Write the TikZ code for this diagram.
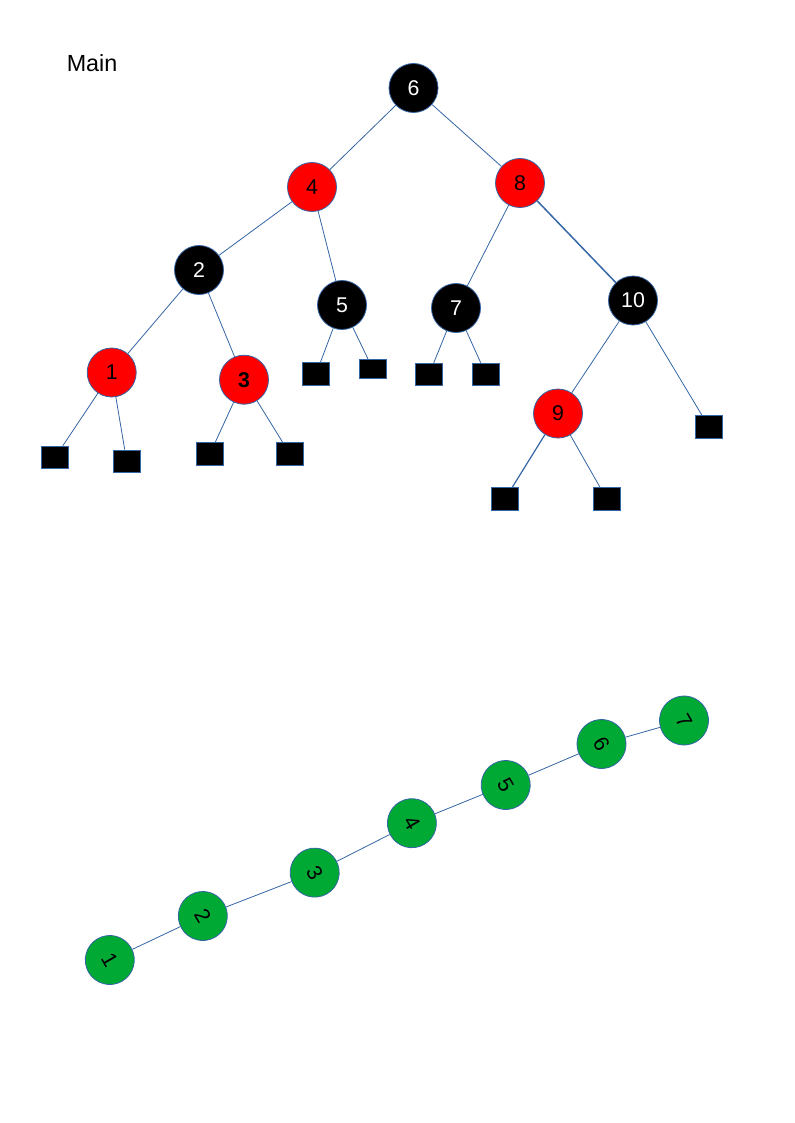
\documentclass[tikz,border=0pt]{standalone}
\usepackage{fontspec}
\setmainfont{Liberation Sans}
\definecolor{edgeblue}{HTML}{3465A4}
\definecolor{nodegreen}{HTML}{00A933}

\begin{document}
\begin{tikzpicture}[x=0.75pt,y=-0.75pt]
				\tikzstyle{rbnode}=[circle,draw=edgeblue,line width=0.6pt,minimum size=36.75pt,inner sep=0pt,font=\fontsize{16}{19}\selectfont]
				\tikzstyle{blk}=[rbnode,fill=black,text=white]
				\tikzstyle{rd}=[rbnode,fill=red,text=black]
				\tikzstyle{nil}=[rectangle,draw=edgeblue,line width=0.6pt,fill=black,minimum width=20pt,minimum height=17pt,inner sep=0pt]
				\tikzstyle{chainnode}=[rbnode,fill=nodegreen,text=black,rotate=-60]
				\tikzstyle{treeline}=[edgeblue,line width=0.6pt]
				
				\useasboundingbox (0,0) rectangle (794,1123);										% Seite
				
				\node (title) [anchor=base west,inner sep=0pt,font=\fontsize{17.5}{21}\selectfont] at (66.5,72) {Main};
				
				% Baum
				\node (n6) [blk] at (413.5,88) {6};
				\node (n4) [rd] at (312,187) {4};
				\node (n8) [rd] at (520,183) {8};
				\node (n2) [blk] at (199,270) {2};
				\node (n5) [blk] at (342,305) {5};
				\node (n7) [blk] at (456,308) {7};
				\node (n10) [blk] at (633,300.5) {10};
				\node (n1) [rd] at (111.7,372.5) {1};
				\node (n3) [rd] at (244,379.7) {\bfseries 3};
				\node (n9) [rd] at (558,413.5) {9};
				
				% Blaetter
				\node (l1a) [nil] at (55,457.5) {};
				\node (l1b) [nil] at (126.7,461.3) {};
				\node (l3a) [nil] at (210,453.7) {};
				\node (l3b) [nil] at (289.7,453.7) {};
				\node (l5a) [nil] at (316,374) {};
				\node (l5b) [nil,minimum height=14pt] at (372.7,368.7) {};
				\node (l7a) [nil] at (429,374.5) {};
				\node (l7b) [nil] at (486,374.5) {};
				\node (l10) [nil] at (709,427) {};
				\node (l9a) [nil] at (505,499) {};
				\node (l9b) [nil] at (606.7,499) {};
				
				\draw [treeline] (n6) -- (n4);
				\draw [treeline] (n6) -- (n8);
				\draw [treeline] (n4) -- (n2);
				\draw [treeline] (n4) -- (n5);
				\draw [treeline] (n8) -- (n7);
				\draw [treeline,line width=1.1pt] (n8) -- (n10);
				\draw [treeline] (n2) -- (n1);
				\draw [treeline] (n2) -- (n3);
				\draw [treeline] (n10) -- (n9);
				\draw [treeline] (n10) -- (l10);
				\draw [treeline] (n1) -- (l1a);
				\draw [treeline] (n1) -- (l1b);
				\draw [treeline] (n3) -- (l3a);
				\draw [treeline] (n3) -- (l3b);
				\draw [treeline] (n5) -- (l5a);
				\draw [treeline] (n5) -- (l5b);
				\draw [treeline] (n7) -- (l7a);
				\draw [treeline] (n7) -- (l7b);
				\draw [treeline,line width=0.9pt] (n9) -- (l9a);
				\draw [treeline] (n9) -- (l9b);
				
				% Kette
				\node (c1) [chainnode] at (109.8,960) {1};
				\node (c2) [chainnode] at (202.8,916) {2};
				\node (c3) [chainnode] at (314.7,872.6) {3};
				\node (c4) [chainnode] at (411.9,823.2) {4};
				\node (c5) [chainnode] at (505.7,785) {5};
				\node (c6) [chainnode] at (601.5,744) {6};
				\node (c7) [chainnode] at (684,720.5) {7};
				
				\draw [treeline] (c1) -- (c2);
				\draw [treeline] (c2) -- (c3);
				\draw [treeline] (c3) -- (c4);
				\draw [treeline] (c4) -- (c5);
				\draw [treeline] (c5) -- (c6);
				\draw [treeline] (c6) -- (c7);
\end{tikzpicture}
\end{document}
